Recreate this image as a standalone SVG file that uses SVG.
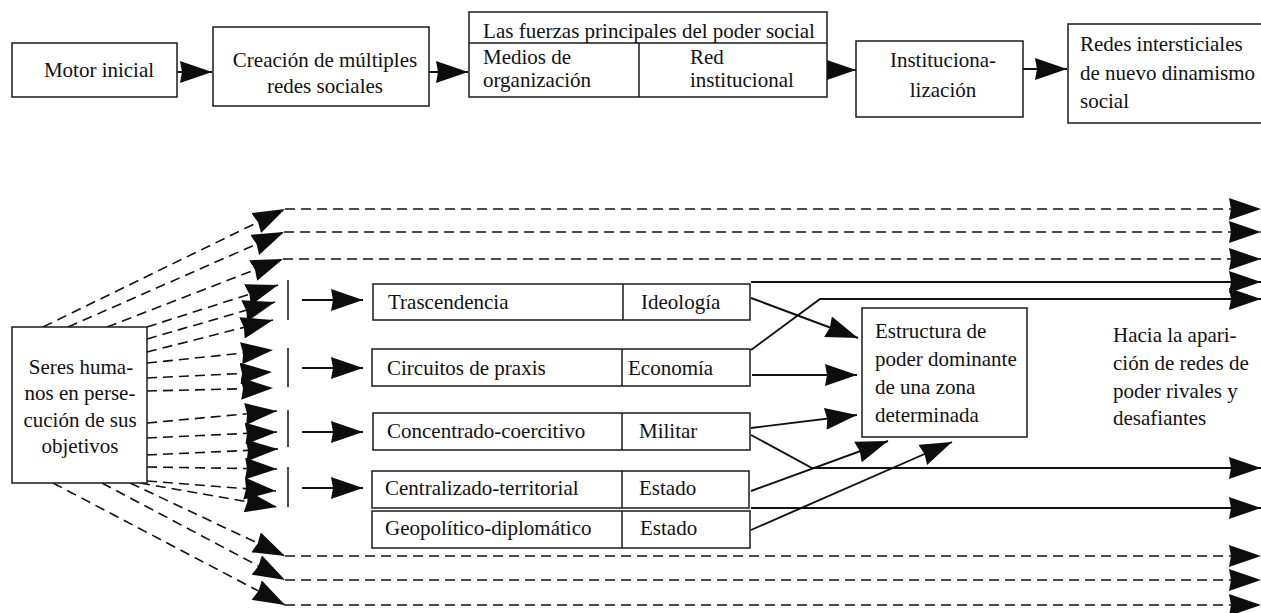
<svg xmlns="http://www.w3.org/2000/svg" width="1261" height="613" viewBox="0 0 1261 613">
<defs>
<marker id="ah" viewBox="0 0 32 22" markerWidth="32" markerHeight="22" refX="32" refY="11" orient="auto" markerUnits="userSpaceOnUse">
<path d="M0,0 L32,11 L0,22 L2,11 Z" fill="#0d0d0d" stroke="none"/>
</marker>
<style>
.box{fill:#fff;stroke:#1a1a1a;stroke-width:1.5}
.sep{stroke:#1a1a1a;stroke-width:1.5}
.t{font-size:21px;fill:#111}
.m{text-anchor:middle}
.c{stroke:#111;stroke-width:1.9;fill:none;marker-end:url(#ah)}
.d{stroke:#111;stroke-width:1.6;stroke-dasharray:10 6;fill:none;marker-end:url(#ah)}
.bar{stroke:#111;stroke-width:1.5}
</style>
</defs>
<rect width="1261" height="613" fill="#fff"/>

<g id="connectors">
<path class="c" d="M177,72 L212,72"/>
<path class="c" d="M429,72 L468,72"/>
<path class="c" d="M827,70 L856,70"/>
<path class="c" d="M1023,69 L1067,69"/>
<path class="d" d="M43,327 L285,209"/>
<path class="d" d="M68,327 L284,232"/>
<path class="d" d="M107,327 L283,259"/>
<path class="d" d="M285,209 L1261,209"/>
<path class="d" d="M284,232 L1261,232"/>
<path class="d" d="M283,259 L1261,259"/>
<path class="d" d="M147,327 L278,285"/>
<path class="d" d="M147,339 L275,302"/>
<path class="d" d="M147,352 L273,320"/>
<path class="d" d="M147,363 L273,350"/>
<path class="d" d="M147,378 L272,372"/>
<path class="d" d="M147,391 L273,388"/>
<path class="d" d="M147,423 L277,411"/>
<path class="d" d="M147,438 L277,432"/>
<path class="d" d="M147,455 L278,449"/>
<path class="d" d="M147,467 L277,469"/>
<path class="d" d="M147,481 L276,491"/>
<path class="d" d="M140,483 L277,507"/>
<path class="d" d="M130,483 L285,556"/>
<path class="d" d="M102,483 L285,580"/>
<path class="d" d="M53,483 L285,605"/>
<path class="d" d="M285,556 L1261,556"/>
<path class="d" d="M285,580 L1261,580"/>
<path class="d" d="M285,605 L1261,605"/>
<line class="bar" x1="288" y1="280" x2="288" y2="320"/>
<line class="bar" x1="288" y1="348" x2="288" y2="387"/>
<line class="bar" x1="288" y1="410" x2="288" y2="447" stroke="#444"/>
<line class="bar" x1="288" y1="467" x2="288" y2="507" stroke="#444"/>
<path class="c" d="M302,300 L363,300"/>
<path class="c" d="M302,368 L363,368"/>
<path class="c" d="M302,432 L363,432"/>
<path class="c" d="M302,488 L363,488"/>
<path class="c" d="M751,298 L858,338"/>
<path class="c" d="M752,375 L857,375"/>
<path class="c" d="M751,428 L857,415"/>
<path class="c" d="M751,491 L888,441"/>
<path class="c" d="M751,530 L952,442"/>
<path class="c" d="M751,282 L1261,282"/>
<path class="c" d="M751,350 L820,299 L1261,299"/>
<path class="c" d="M751,435 L812,468 L1261,468"/>
<path class="c" d="M751,508 L1261,508"/>
</g>

<g font-family="'Liberation Serif', Tinos, 'DejaVu Serif', 'Noto Serif', 'Times New Roman', serif">
<g id="motor">
<rect class="box" x="12" y="43" width="165" height="54"/>
<text class="t m" x="99" y="77">Motor inicial</text>
</g>
<g id="creacion">
<rect class="box" x="213" y="27" width="216" height="79"/>
<text class="t m" x="325" y="67">Creación de múltiples</text>
<text class="t m" x="325" y="93">redes sociales</text>
</g>
<g id="fuerzas">
<rect class="box" x="469" y="12" width="358" height="85"/>
<line class="sep" x1="469" y1="43" x2="827" y2="43"/>
<line class="sep" x1="639" y1="43" x2="639" y2="97"/>
<text class="t m" x="649" y="38">Las fuerzas principales del poder social</text>
<text class="t" x="483" y="64">Medios de</text>
<text class="t" x="483" y="87">organización</text>
<text class="t" x="690" y="64">Red</text>
<text class="t" x="690" y="87">institucional</text>
</g>
<g id="institucionalizacion">
<rect class="box" x="856" y="41" width="167" height="76"/>
<text class="t m" x="943" y="67">Instituciona-</text>
<text class="t m" x="943" y="97">lización</text>
</g>
<g id="redes">
<rect class="box" x="1068" y="24" width="200" height="99"/>
<text class="t" x="1080" y="51">Redes intersticiales</text>
<text class="t" x="1080" y="80">de nuevo dinamismo</text>
<text class="t" x="1080" y="108">social</text>
</g>
<g id="seres">
<rect class="box" x="12" y="327" width="135" height="156"/>
<text class="t m" x="81" y="374">Seres huma-</text>
<text class="t m" x="80" y="400">nos en perse-</text>
<text class="t m" x="80" y="427">cución de sus</text>
<text class="t m" x="80" y="453">objetivos</text>
</g>
<g id="trascendencia">
<rect class="box" x="373" y="284" width="377" height="36"/>
<line class="sep" x1="623" y1="284" x2="623" y2="320"/>
<text class="t" x="388" y="309">Trascendencia</text>
<text class="t" x="641" y="309">Ideología</text>
</g>
<g id="circuitos">
<rect class="box" x="372" y="349" width="378" height="37"/>
<line class="sep" x1="622" y1="349" x2="622" y2="386"/>
<text class="t" x="387" y="375">Circuitos de praxis</text>
<text class="t" x="628" y="375">Economía</text>
</g>
<g id="concentrado">
<rect class="box" x="373" y="413" width="377" height="37"/>
<line class="sep" x1="622" y1="413" x2="622" y2="450"/>
<text class="t" x="387" y="438">Concentrado-coercitivo</text>
<text class="t" x="639" y="438">Militar</text>
</g>
<g id="centralizado">
<rect class="box" x="372" y="471" width="377" height="37"/>
<line class="sep" x1="622" y1="471" x2="622" y2="508"/>
<text class="t" x="385" y="495">Centralizado-territorial</text>
<text class="t" x="639" y="495">Estado</text>
</g>
<g id="geopolitico">
<rect class="box" x="372" y="511" width="378" height="37"/>
<line class="sep" x1="622" y1="511" x2="622" y2="548"/>
<text class="t" x="385" y="535">Geopolítico-diplomático</text>
<text class="t" x="640" y="535">Estado</text>
</g>
<g id="estructura">
<rect class="box" x="862" y="308" width="165" height="129"/>
<text class="t" x="875" y="338">Estructura de</text>
<text class="t" x="875" y="366">poder dominante</text>
<text class="t" x="875" y="394">de una zona</text>
<text class="t" x="875" y="422">determinada</text>
</g>
<g id="hacia">
<text class="t" x="1113" y="342">Hacia la apari-</text>
<text class="t" x="1113" y="370">ción de redes de</text>
<text class="t" x="1113" y="398">poder rivales y</text>
<text class="t" x="1113" y="425">desafiantes</text>
</g>
</g>
</svg>
